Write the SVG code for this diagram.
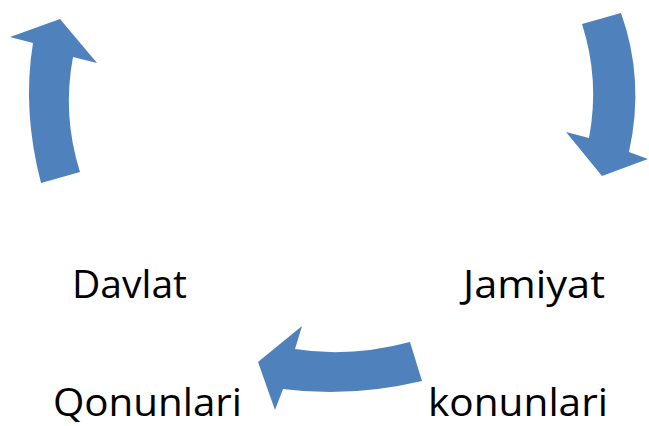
<svg xmlns="http://www.w3.org/2000/svg" width="649" height="426" viewBox="0 0 649 426">
<style>
.arrow{fill:#4F81BD;stroke:none}
.lbl{font-family:"Open Sans","Noto Sans","Liberation Sans",sans-serif;font-size:38px;fill:#000}
</style>
<rect width="649" height="426" fill="#fff"/>
<g id="connectors">
<path id="arrow-up" class="arrow" d="M 41 183 Q 22 110 33 43 L 10 37 L 60 19 L 97 63 L 73 57 Q 62 115 80 172 Z"/>
<path id="arrow-down" class="arrow" d="M 582 24 L 621 13 Q 645 80 629 152 L 648 159 L 602 176 L 566 132 L 589 138 Q 600 80 582 24 Z"/>
<path id="arrow-left" class="arrow" d="M 258 362 L 302 326 L 295 349 Q 350 358 410 342 L 422 381 Q 350 398 283 389 L 275 410 Z"/>
</g>
<g id="node-davlat"><text class="lbl" x="72" y="298" textLength="115" lengthAdjust="spacingAndGlyphs">Davlat</text></g>
<g id="node-jamiyat"><text class="lbl" x="463" y="298" textLength="142" lengthAdjust="spacingAndGlyphs">Jamiyat</text></g>
<g id="node-qonunlari"><text class="lbl" x="53" y="416" textLength="189" lengthAdjust="spacingAndGlyphs">Qonunlari</text></g>
<g id="node-konunlari"><text class="lbl" x="428" y="416" textLength="180" lengthAdjust="spacingAndGlyphs">konunlari</text></g>
</svg>
